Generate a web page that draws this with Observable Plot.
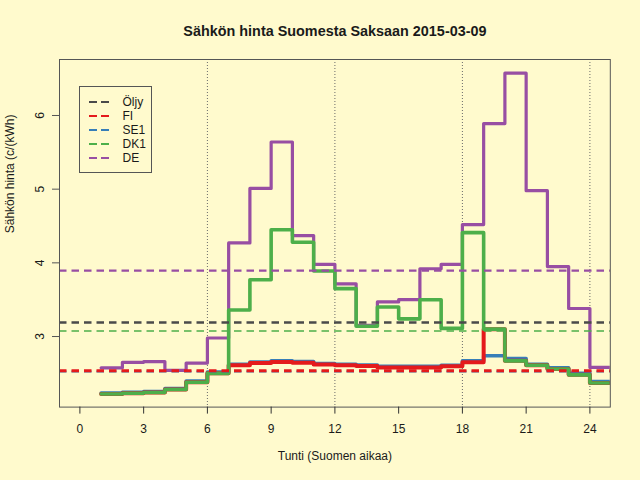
<!DOCTYPE html>
<html><head><meta charset="utf-8">
<script src="https://cdn.jsdelivr.net/npm/d3@7"></script>
<script src="https://cdn.jsdelivr.net/npm/@observablehq/plot@0.6"></script>
<style>
html,body{margin:0;padding:0;background:#FFFACD;}
#wrap{position:relative;width:640px;height:480px;background:#FFFACD;font-family:"Liberation Sans",Arial,Helvetica,sans-serif;overflow:hidden;}
#wrap svg{display:block;}
#legend{position:absolute;left:79px;top:86px;width:73px;height:87px;border:1px solid #555;box-sizing:border-box;padding-top:7.6px;}
.row{display:flex;align-items:center;height:14.2px;font-size:12px;color:#1a1a1a;line-height:14.2px;}
.row svg{margin-left:9px;margin-right:13.5px;flex:none;}
</style></head><body><div id="wrap"><div id="legend"></div></div>
<script>
const tunnit = [1,2,3,4,5,6,7,8,9,10,11,12,13,14,15,16,17,18,19,20,21,22,23,24];
const FI  = [2.22,2.23,2.24,2.28,2.38,2.50,2.61,2.64,2.655,2.645,2.62,2.61,2.60,2.58,2.58,2.58,2.595,2.65,3.10,2.67,2.61,2.56,2.48,2.37];
const SE1 = [2.235,2.245,2.255,2.295,2.395,2.52,2.625,2.655,2.67,2.66,2.635,2.625,2.615,2.595,2.595,2.595,2.61,2.67,2.74,2.70,2.625,2.575,2.50,2.39];
const DK1 = [2.22,2.23,2.24,2.28,2.38,2.50,3.36,3.77,4.45,4.28,3.89,3.65,3.14,3.40,3.24,3.50,3.11,4.41,3.10,2.67,2.61,2.56,2.48,2.37];
const DE  = [2.575,2.65,2.66,2.54,2.64,2.98,4.27,5.01,5.64,4.37,3.98,3.715,3.15,3.47,3.50,3.92,3.98,4.52,5.89,6.575,4.98,3.95,3.38,2.58];
const sarjat = ["Öljy","FI","SE1","DK1","DE"];
const varit = ["#4a4a4a","#E41A1C","#377EB8","#4DAF4A","#984EA3"];
const keskiarvot = [3.19,2.535,2.525,3.075,3.895];
const viivaLeveys = [2.5,3,2,1.7,2.3];
const xTicks = [0,3,6,9,12,15,18,21,24];
const yTicks = [3,4,5,6];
const pystyViivat = [6,12,18,24];
const otsikko = "Sähkön hinta Suomesta Saksaan 2015-03-09";
const xOtsikko = "Tunti (Suomen aikaa)";
const yOtsikko = "Sähkön hinta (c/(kWh)";

const arvot = {FI, SE1, DK1, DE};
const vari = Object.fromEntries(sarjat.map((s,i)=>[s,varit[i]]));
function taulu(nimi){
  const v = arvot[nimi];
  const r = tunnit.map((h,i)=>({tunti:h, hinta:v[i]}));
  r.push({tunti: tunnit[tunnit.length-1]+1, hinta: v[v.length-1]});
  return r;
}
const piirtoJarjestys = ["DE","SE1","FI","DK1"];
const leveys = {DE:3.2, SE1:3.5, FI:4, DK1:3.6};

const font = "Liberation Sans, Arial, Helvetica, sans-serif";
const chart = Plot.plot({
  width: 640, height: 480,
  marginLeft: 59, marginRight: 30.2, marginTop: 59, marginBottom: 73.4,
  style: {background: "transparent", fontFamily: font, overflow: "visible", color: "#1a1a1a"},
  x: {domain: [-0.96, 24.96]},
  y: {domain: [2.042, 6.76]},
  marks: [
    Plot.ruleX(pystyViivat, {stroke: "#6a6a6a", strokeDasharray: "1,2", strokeWidth: 1}),
    ...piirtoJarjestys.map(n => Plot.line(taulu(n), {x: "tunti", y: "hinta", curve: "step-after", stroke: vari[n], strokeWidth: leveys[n], clip: true})),
    ...[2,1,3,4,0].map(i => Plot.ruleY([keskiarvot[i]], {stroke: varit[i], strokeWidth: viivaLeveys[i], strokeDasharray: "7.5,5"})),
    Plot.frame({stroke: "#555", strokeWidth: 1}),
    Plot.axisX({ticks: xTicks, tickSize: 7, tickPadding: 10, fontSize: 12, label: null, stroke: "#333"}),
    Plot.axisY({ticks: yTicks, tickSize: 7, tickFormat: () => "", label: null, stroke: "#555"}),
    Plot.text(yTicks, {y: d => d, text: d => String(d), frameAnchor: "left", rotate: -90, dx: -16, lineAnchor: "bottom", textAnchor: "middle", fontSize: 12}),
    Plot.text([otsikko], {frameAnchor: "top", dy: -23.5, lineAnchor: "bottom", fontWeight: "bold", fontSize: 14.4}),
    Plot.text([xOtsikko], {frameAnchor: "bottom", dy: 53, lineAnchor: "bottom", fontSize: 12}),
    Plot.text([yOtsikko], {frameAnchor: "left", dx: -46, rotate: -90, lineAnchor: "bottom", fontSize: 12})
  ]
});
const wrap = document.getElementById("wrap");
wrap.insertBefore(chart, wrap.firstChild);

const leg = document.getElementById("legend");
sarjat.forEach((s,i) => {
  const row = document.createElement("div");
  row.className = "row";
  row.innerHTML = `<svg width="20" height="4"><line x1="0" y1="2" x2="20" y2="2" stroke="${varit[i]}" stroke-width="2" stroke-dasharray="8,4"/></svg><span>${s}</span>`;
  leg.appendChild(row);
});
</script></body></html>
